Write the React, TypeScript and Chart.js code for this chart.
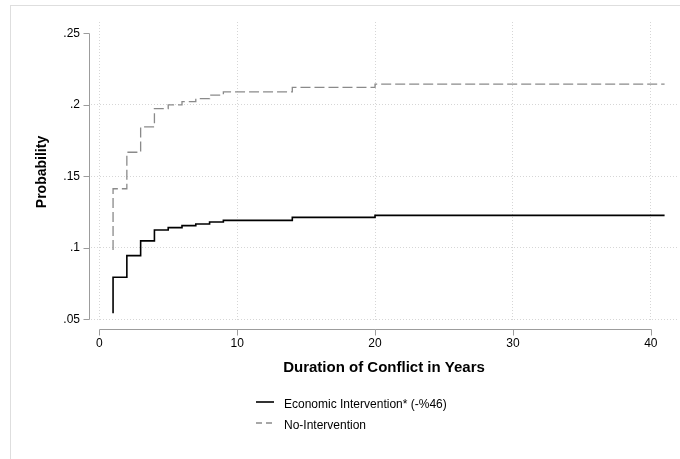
import React, { useEffect, useRef } from 'react';
import { Chart, registerables } from 'chart.js';

Chart.register(...registerables);

// Data (step curves)
const econYears = [1, 1, 2, 3, 4, 5, 6, 7, 8, 9, 14, 20, 41];
const econProb = [0.0542, 0.0794, 0.0945, 0.1048, 0.1124, 0.1141, 0.1155, 0.1166, 0.118, 0.1192, 0.1213, 0.1227, 0.1227];
const noIntYears = [1, 1, 2, 3, 4, 5, 6, 7, 8, 9, 14, 20, 41];
const noIntProb = [0.0985, 0.1413, 0.1668, 0.1845, 0.1973, 0.1999, 0.2022, 0.2043, 0.2068, 0.209, 0.2122, 0.2145, 0.2145];

const xTicks = [0, 10, 20, 30, 40];
const yTicks = [0.05, 0.1, 0.15, 0.2, 0.25];
const yTickLabels = ['.05', '.1', '.15', '.2', '.25'];
const seriesLabels = ['Economic Intervention* (-%46)', 'No-Intervention'];
const xTitle = 'Duration of Conflict in Years';
const yTitle = 'Probability';

const FONT = "'Liberation Sans', Arial, Helvetica, sans-serif";
const AXIS_COLOR = '#9c9c9c';

const stataAxes = {
  id: 'stataAxes',
  afterDraw(chart: any) {
    const { ctx, scales } = chart;
    const xs = scales.x;
    const ys = scales.y;
    ctx.save();
    ctx.strokeStyle = AXIS_COLOR;
    ctx.lineWidth = 1;
    // y axis
    const yAxisX = Math.round(chart.chartArea.left - 2) + 0.5;
    const yTop = Math.round(ys.getPixelForValue(yTicks[yTicks.length - 1])) + 0.5;
    const yBot = Math.round(ys.getPixelForValue(yTicks[0])) + 0.5;
    ctx.beginPath();
    ctx.moveTo(yAxisX, yTop);
    ctx.lineTo(yAxisX, yBot);
    yTicks.forEach((v) => {
      const p = Math.round(ys.getPixelForValue(v)) + 0.5;
      ctx.moveTo(yAxisX, p);
      ctx.lineTo(yAxisX - 6, p);
    });
    ctx.stroke();
    // x axis
    const xAxisY = Math.round(chart.chartArea.bottom + 7) + 0.5;
    const xL = Math.round(xs.getPixelForValue(xTicks[0])) + 0.5;
    const xR = Math.round(xs.getPixelForValue(xTicks[xTicks.length - 1])) + 0.5;
    ctx.beginPath();
    ctx.moveTo(xL, xAxisY);
    ctx.lineTo(xR, xAxisY);
    xTicks.forEach((v) => {
      const p = Math.round(xs.getPixelForValue(v)) + 0.5;
      ctx.moveTo(p, xAxisY);
      ctx.lineTo(p, xAxisY + 6);
    });
    ctx.stroke();
    ctx.restore();
  },
};

function LegendSample({ dashed }: { dashed: boolean }) {
  return (
    <svg width={18} height={4} style={{ display: 'block' }}>
      <line
        x1={0}
        y1={2}
        x2={18}
        y2={2}
        stroke={dashed ? '#8a8a8a' : '#000'}
        strokeWidth={dashed ? 1.3 : 1.6}
        strokeDasharray={dashed ? '6 4' : undefined}
      />
    </svg>
  );
}

export default function App() {
  const canvasRef = useRef<HTMLCanvasElement | null>(null);

  useEffect(() => {
    if (!canvasRef.current) return;
    const chart = new Chart(canvasRef.current, {
      type: 'line',
      data: {
        datasets: [
          {
            label: seriesLabels[0],
            data: econYears.map((x, i) => ({ x, y: econProb[i] })),
            borderColor: '#000',
            borderWidth: 1.6,
            pointRadius: 0,
            stepped: 'before',
            fill: false,
          },
          {
            label: seriesLabels[1],
            data: noIntYears.map((x, i) => ({ x, y: noIntProb[i] })),
            borderColor: '#8a8a8a',
            borderWidth: 1.3,
            borderDash: [10, 4],
            pointRadius: 0,
            stepped: 'before',
            fill: false,
          },
        ],
      },
      options: {
        animation: false,
        responsive: false,
        maintainAspectRatio: false,
        layout: { padding: { left: 10, right: 3, top: 22, bottom: 77 } },
        plugins: { legend: { display: false }, tooltip: { enabled: false } },
        scales: {
          x: {
            type: 'linear',
            min: -0.6,
            max: 41.9,
            afterBuildTicks: (s: any) => {
              s.ticks = xTicks.map((v) => ({ value: v }));
            },
            afterFit: (s: any) => {
              s.height = 60;
            },
            grid: {
              color: '#d6d6d6',
              lineWidth: 1,
              drawTicks: false,
            },
            border: { display: false, dash: [1, 2] },
            ticks: {
              padding: 14,
              color: '#000',
              font: { family: FONT, size: 12 },
              maxRotation: 0,
              callback: (v: any) => String(v),
            },
            title: {
              display: true,
              text: xTitle,
              color: '#000',
              font: { family: FONT, size: 15, weight: 'bold' },
              padding: { top: 0, bottom: 5 },
            },
          },
          y: {
            type: 'linear',
            min: 0.0481,
            max: 0.2579,
            afterBuildTicks: (s: any) => {
              s.ticks = yTicks.map((v) => ({ value: v }));
            },
            afterFit: (s: any) => {
              s.width = 81;
            },
            grid: {
              color: (c: any) => (c.tick && Math.abs(c.tick.value - 0.25) < 1e-6 ? 'rgba(0,0,0,0)' : '#d6d6d6'),
              lineWidth: 1,
              drawTicks: false,
            },
            border: { display: false, dash: [1, 2] },
            ticks: {
              padding: 11,
              color: '#000',
              font: { family: FONT, size: 12 },
              callback: (v: any) => {
                const i = yTicks.findIndex((t) => Math.abs(t - v) < 1e-6);
                return i >= 0 ? yTickLabels[i] : '';
              },
            },
            title: {
              display: true,
              text: yTitle,
              color: '#000',
              font: { family: FONT, size: 14, weight: 'bold' },
              padding: { top: 24, bottom: 0 },
            },
          },
        },
      },
      plugins: [stataAxes],
    } as any);
    return () => chart.destroy();
  }, []);

  return (
    <div style={{ position: 'fixed', left: 0, top: 0, width: 680, height: 459, background: '#fff', overflow: 'hidden' }}>
      <div
        style={{
          position: 'absolute',
          left: 10,
          top: 5,
          width: 680,
          height: 460,
          borderTop: '1px solid #dedede',
          borderLeft: '1px solid #dedede',
        }}
      />
      <canvas ref={canvasRef} width={680} height={459} style={{ position: 'absolute', left: 0, top: 0 }} />
      <div style={{ position: 'absolute', left: 256, top: 400 }}>
        <LegendSample dashed={false} />
      </div>
      <div
        style={{
          position: 'absolute',
          left: 284,
          top: 397,
          font: `12px ${FONT}`,
          lineHeight: '14px',
          color: '#000',
          whiteSpace: 'nowrap',
        }}
      >
        {seriesLabels[0]}
      </div>
      <div style={{ position: 'absolute', left: 256, top: 421 }}>
        <LegendSample dashed={true} />
      </div>
      <div
        style={{
          position: 'absolute',
          left: 284,
          top: 418,
          font: `12px ${FONT}`,
          lineHeight: '14px',
          color: '#000',
          whiteSpace: 'nowrap',
        }}
      >
        {seriesLabels[1]}
      </div>
    </div>
  );
}
